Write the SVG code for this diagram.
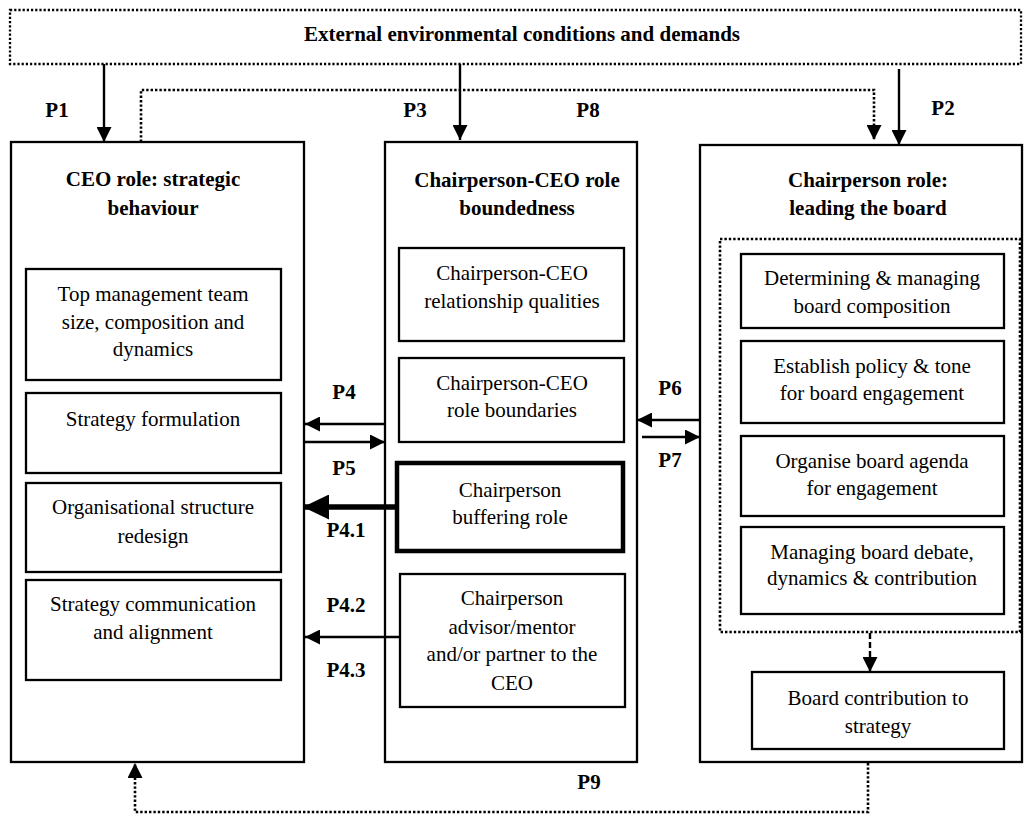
<svg xmlns="http://www.w3.org/2000/svg" width="1026" height="817" viewBox="0 0 1026 817" font-family="Liberation Serif">
<defs>
<marker id="arr" markerUnits="userSpaceOnUse" markerWidth="15" markerHeight="15" refX="15" refY="7.5" orient="auto"><path d="M0,0 L15,7.5 L0,15 z" fill="#000" stroke="none"/></marker>
<marker id="arrbig" markerUnits="userSpaceOnUse" markerWidth="26" markerHeight="25" refX="26" refY="12.5" orient="auto"><path d="M0,0 L26,12.5 L0,25 z" fill="#000" stroke="none"/></marker>
</defs>
<rect width="1026" height="817" fill="#fff"/>

<g id="nodes" fill="#fff" stroke="#000" stroke-width="2.3">
<g id="external">
<rect x="10" y="10" width="1011" height="54" fill="none" stroke-dasharray="2.2 2"/>
<text x="522" y="41" font-family="Liberation Serif" font-size="21" font-weight="bold" text-anchor="middle" fill="#000" stroke="none">External environmental conditions and demands</text>
</g>

<g id="ceo">
<rect x="11" y="142" width="293" height="620"/>
<g font-size="21" font-weight="bold" text-anchor="middle" fill="#000" stroke="none">
<text font-family="Liberation Serif" x="153" y="186">CEO role: strategic</text>
<text font-family="Liberation Serif" x="153" y="215">behaviour</text>
</g>
</g>
<g id="ceo-tmt">
<rect x="26" y="269" width="255" height="111"/>
<g font-size="21" text-anchor="middle" fill="#000" stroke="none">
<text font-family="Liberation Serif" x="153" y="301">Top management team</text>
<text font-family="Liberation Serif" x="153" y="329">size, composition and</text>
<text font-family="Liberation Serif" x="153" y="356">dynamics</text>
</g>
</g>
<g id="ceo-formulation">
<rect x="26" y="393" width="255" height="80"/>
<text font-family="Liberation Serif" font-size="21" text-anchor="middle" fill="#000" stroke="none" x="153" y="426">Strategy formulation</text>
</g>
<g id="ceo-structure">
<rect x="26" y="483" width="255" height="89"/>
<g font-size="21" text-anchor="middle" fill="#000" stroke="none">
<text font-family="Liberation Serif" x="153" y="514">Organisational structure</text>
<text font-family="Liberation Serif" x="153" y="543">redesign</text>
</g>
</g>
<g id="ceo-communication">
<rect x="26" y="580" width="255" height="100"/>
<g font-size="21" text-anchor="middle" fill="#000" stroke="none">
<text font-family="Liberation Serif" x="153" y="611">Strategy communication</text>
<text font-family="Liberation Serif" x="153" y="639">and alignment</text>
</g>
</g>

<g id="boundedness">
<rect x="385" y="142" width="252" height="620"/>
<g font-size="21" font-weight="bold" text-anchor="middle" fill="#000" stroke="none">
<text font-family="Liberation Serif" x="517" y="187">Chairperson-CEO role</text>
<text font-family="Liberation Serif" x="517" y="215">boundedness</text>
</g>
</g>
<g id="bd-relationship">
<rect x="399" y="248" width="225" height="93"/>
<g font-size="21" text-anchor="middle" fill="#000" stroke="none">
<text font-family="Liberation Serif" x="512" y="280">Chairperson-CEO</text>
<text font-family="Liberation Serif" x="512" y="308">relationship qualities</text>
</g>
</g>
<g id="bd-boundaries">
<rect x="399" y="358" width="225" height="84"/>
<g font-size="21" text-anchor="middle" fill="#000" stroke="none">
<text font-family="Liberation Serif" x="512" y="390">Chairperson-CEO</text>
<text font-family="Liberation Serif" x="512" y="417">role boundaries</text>
</g>
</g>
<g id="bd-buffering">
<rect x="397" y="463" width="226" height="88" stroke-width="4.5"/>
<g font-size="21" text-anchor="middle" fill="#000" stroke="none">
<text font-family="Liberation Serif" x="510" y="497">Chairperson</text>
<text font-family="Liberation Serif" x="510" y="524">buffering role</text>
</g>
</g>
<g id="bd-advisor">
<rect x="400" y="574" width="225" height="133"/>
<g font-size="21" text-anchor="middle" fill="#000" stroke="none">
<text font-family="Liberation Serif" x="512" y="605">Chairperson</text>
<text font-family="Liberation Serif" x="512" y="634">advisor/mentor</text>
<text font-family="Liberation Serif" x="512" y="661">and/or partner to the</text>
<text font-family="Liberation Serif" x="512" y="690">CEO</text>
</g>
</g>

<g id="chair">
<rect x="700" y="145" width="322" height="617"/>
<g font-size="21" font-weight="bold" text-anchor="middle" fill="#000" stroke="none">
<text font-family="Liberation Serif" x="868" y="187">Chairperson role:</text>
<text font-family="Liberation Serif" x="868" y="215">leading the board</text>
</g>
<rect x="720" y="239" width="300" height="393" fill="none" stroke-width="2.6" stroke-dasharray="2.4 2"/>
</g>
<g id="chair-composition">
<rect x="741" y="254" width="263" height="74"/>
<g font-size="21" text-anchor="middle" fill="#000" stroke="none">
<text font-family="Liberation Serif" x="872" y="285">Determining &amp; managing</text>
<text font-family="Liberation Serif" x="872" y="313">board composition</text>
</g>
</g>
<g id="chair-policy">
<rect x="741" y="341" width="263" height="82"/>
<g font-size="21" text-anchor="middle" fill="#000" stroke="none">
<text font-family="Liberation Serif" x="872" y="373">Establish policy &amp; tone</text>
<text font-family="Liberation Serif" x="872" y="400">for board engagement</text>
</g>
</g>
<g id="chair-agenda">
<rect x="741" y="436" width="263" height="80"/>
<g font-size="21" text-anchor="middle" fill="#000" stroke="none">
<text font-family="Liberation Serif" x="872" y="468">Organise board agenda</text>
<text font-family="Liberation Serif" x="872" y="495">for engagement</text>
</g>
</g>
<g id="chair-debate">
<rect x="741" y="527" width="263" height="87"/>
<g font-size="21" text-anchor="middle" fill="#000" stroke="none">
<text font-family="Liberation Serif" x="872" y="559">Managing board debate,</text>
<text font-family="Liberation Serif" x="872" y="585">dynamics &amp; contribution</text>
</g>
</g>
<g id="chair-strategy">
<rect x="752" y="672" width="252" height="77"/>
<g font-size="21" text-anchor="middle" fill="#000" stroke="none">
<text font-family="Liberation Serif" x="878" y="705">Board contribution to</text>
<text font-family="Liberation Serif" x="878" y="733">strategy</text>
</g>
</g>
</g>

<g id="connectors" fill="none" stroke="#000" stroke-width="2.4">
<line x1="104" y1="64" x2="104" y2="142" marker-end="url(#arr)"/>
<line x1="460" y1="64" x2="460" y2="140" marker-end="url(#arr)"/>
<line x1="899" y1="69" x2="899" y2="145" marker-end="url(#arr)"/>
<path d="M141,142 V90 H874 V140" stroke-width="2.6" stroke-dasharray="2.4 2" marker-end="url(#arr)"/>
<line x1="385" y1="424" x2="305" y2="424" marker-end="url(#arr)"/>
<line x1="305" y1="442" x2="385" y2="442" marker-end="url(#arr)"/>
<line x1="397" y1="507" x2="303" y2="507" stroke-width="5.5" marker-end="url(#arrbig)"/>
<line x1="400" y1="637" x2="305" y2="637" marker-end="url(#arr)"/>
<line x1="700" y1="420" x2="637" y2="420" marker-end="url(#arr)"/>
<line x1="642" y1="437" x2="700" y2="437" marker-end="url(#arr)"/>
<line x1="870" y1="633" x2="870" y2="672" stroke-dasharray="6 3" marker-end="url(#arr)"/>
<path d="M868,763 V812 H135 V763" stroke-width="2.6" stroke-dasharray="2.4 2" marker-end="url(#arr)"/>
<g font-size="21" font-weight="bold" text-anchor="middle" fill="#000" stroke="none">
<text font-family="Liberation Serif" x="57" y="117">P1</text>
<text font-family="Liberation Serif" x="415" y="117">P3</text>
<text font-family="Liberation Serif" x="588" y="117">P8</text>
<text font-family="Liberation Serif" x="943" y="115">P2</text>
<text font-family="Liberation Serif" x="344" y="399">P4</text>
<text font-family="Liberation Serif" x="344" y="475">P5</text>
<text font-family="Liberation Serif" x="346" y="537">P4.1</text>
<text font-family="Liberation Serif" x="346" y="612">P4.2</text>
<text font-family="Liberation Serif" x="346" y="677">P4.3</text>
<text font-family="Liberation Serif" x="670" y="395">P6</text>
<text font-family="Liberation Serif" x="670" y="467">P7</text>
<text font-family="Liberation Serif" x="589" y="789">P9</text>
</g>
</g>
</svg>
